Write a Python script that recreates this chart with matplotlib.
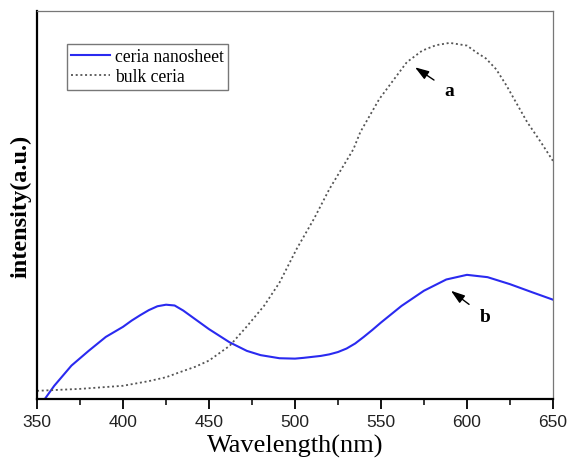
import matplotlib.pyplot as plt
from matplotlib.ticker import MultipleLocator

# ceria nanosheet (blue solid)
wl_nano = [355, 360, 370, 380, 390, 400, 405, 410, 415, 420, 425, 430, 435, 440, 450,
           462, 472, 480, 491, 500, 505, 515, 520, 525, 530, 535, 540, 545, 550, 562,
           575, 588, 600, 612, 625, 638, 650]
nano = [0.003, 0.034, 0.086, 0.124, 0.16, 0.186, 0.202, 0.216, 0.229, 0.239, 0.243,
        0.241, 0.228, 0.212, 0.18, 0.146, 0.124, 0.113, 0.105, 0.104, 0.106, 0.111,
        0.115, 0.121, 0.13, 0.143, 0.16, 0.178, 0.197, 0.24, 0.279, 0.308, 0.32,
        0.314, 0.296, 0.275, 0.256]

# bulk ceria (dotted)
wl_bulk = [350, 375, 400, 415, 425, 433, 442, 450, 462, 472, 482, 491, 501, 511, 520,
           534, 538, 549, 565, 574, 582, 590, 600, 606, 611, 617, 623, 635, 643, 650]
bulk = [0.021, 0.026, 0.034, 0.046, 0.056, 0.069, 0.083, 0.099, 0.137, 0.187, 0.24,
        0.30, 0.387, 0.464, 0.541, 0.644, 0.688, 0.773, 0.868, 0.898, 0.912, 0.918,
        0.911, 0.892, 0.878, 0.85, 0.808, 0.714, 0.662, 0.614]

serif = ['Liberation Serif', 'DejaVu Serif']
sans = ['Liberation Sans', 'DejaVu Sans']

fig = plt.figure(figsize=(5.7, 4.64), dpi=100)
ax = fig.add_axes([0.065, 0.138, 0.905, 0.836])

ax.plot(wl_nano, nano, color='#2a2af0', lw=1.5, label='ceria nanosheet')
ax.plot(wl_bulk, bulk, color='#555555', lw=1.3, ls=(0, (1.1, 1.5)), label='bulk ceria')

ax.set_xlim(350, 650)
ax.set_ylim(0, 1)
ax.xaxis.set_major_locator(MultipleLocator(50))
ax.xaxis.set_minor_locator(MultipleLocator(25))
ax.tick_params(axis='x', which='major', direction='out', length=7, width=1.3,
               labelsize=12.5, labelcolor='#222222', pad=4)
ax.tick_params(axis='x', which='minor', direction='out', length=4, width=1.1)
ax.set_yticks([])
for lab in ax.get_xticklabels():
    lab.set_family(sans)

ax.spines['left'].set_linewidth(1.6)
ax.spines['bottom'].set_linewidth(1.6)
for s in ['top', 'right']:
    ax.spines[s].set_linewidth(0.9)
    ax.spines[s].set_color('#777777')

ax.set_xlabel('Wavelength(nm)', family=serif, fontsize=19, labelpad=3)
ax.set_ylabel('intensity(a.u.)', family=serif, fontsize=17.5, fontweight='bold', labelpad=4)

leg = ax.legend(loc='upper left', bbox_to_anchor=(0.058, 0.915), prop={'family': serif, 'size': 12.7},
                frameon=True, fancybox=False, edgecolor='#555555', handlelength=2.2,
                handletextpad=0.25, borderpad=0.25, labelspacing=0.15, borderaxespad=0)
leg.get_frame().set_linewidth(1.0)

ax.annotate('a', xy=(569.8, 0.855), xytext=(590, 0.795), family=serif, fontsize=14,
            fontweight='bold', ha='center', va='center',
            arrowprops=dict(arrowstyle='-|>,head_length=0.6,head_width=0.2', color='black',
                            lw=1.0, shrinkA=7, shrinkB=0))
ax.annotate('b', xy=(590.7, 0.279), xytext=(610.5, 0.213), family=serif, fontsize=14,
            fontweight='bold', ha='center', va='center',
            arrowprops=dict(arrowstyle='-|>,head_length=0.6,head_width=0.2', color='black',
                            lw=1.0, shrinkA=7, shrinkB=0))

fig.savefig('out.png', dpi=100)
